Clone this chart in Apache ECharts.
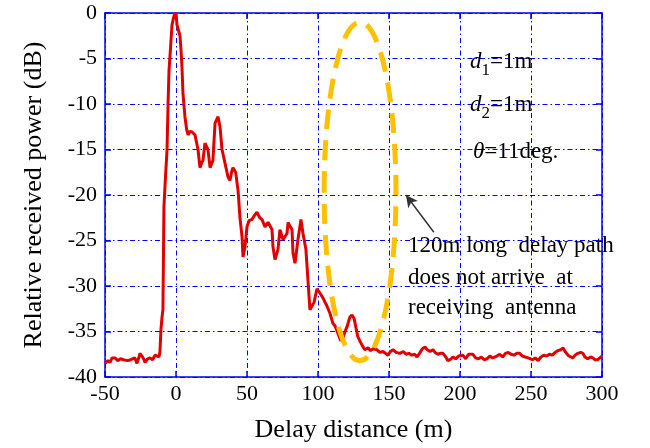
<!DOCTYPE html>
<html>
<head>
<meta charset="utf-8">
<script src="https://cdn.jsdelivr.net/npm/echarts@6/dist/echarts.min.js"></script>
<style>
  html, body { margin: 0; padding: 0; background: #fff; }
  #chart { width: 650px; height: 448px; }
</style>
</head>
<body>
<div id="chart"></div>
<script>
// ---- data ----
const delayM = [
  -50, -48, -46.5, -45, -43, -41, -39, -37, -35.9, -34, -32, -31, -29, -27.5, -26, -25.4, -24, -22.5, -21.8, -20,
  -18.3, -16.5, -14.8, -13.4, -12, -11.3, -10.6, -9.9, -9.2, -8.5, -7.4, -6.3, -5.6, -4.9, -3.5, -2.8, -1.4, 0, 0.7, 1.5,
  2.8, 3.5, 4.2, 4.9, 6.3, 7.5, 8.5, 9.9, 11.5, 13.4, 15.5, 16.9, 18, 19, 20.4, 22.5, 24, 26, 27.5, 29.6,
  31, 32.4, 34.5, 36.6, 38, 39.4, 40.1, 42, 43, 43.7, 45, 46.5, 47.2, 48.6, 50, 51.5, 53.5, 55, 57, 59,
  60.6, 62.7, 64.8, 66, 67.6, 68.3, 69.7, 71.8, 73.2, 75.4, 77, 78.2, 78.9, 80.5, 81.7, 82.4, 83.8, 85.9, 88, 89.4,
  91.5, 93, 94.3, 95.7, 97.2, 99.3, 100, 101.4, 103.5, 105, 106.3, 108.4, 110.5, 112, 114, 116, 116.9, 117.6, 119, 120.4,
  122.5, 124, 125.5, 127, 128.1, 130, 131, 133, 135.2, 137, 139, 141.5, 143.5, 145.7, 147.5, 149.3, 151, 152.8, 155, 157.7,
  160, 162, 164, 166, 168, 169.7, 171.5, 173.5, 175.4, 177, 179, 181, 182.4, 184.5, 186, 188, 190, 191.5, 193, 195,
  197, 199, 200, 202, 204, 206, 209, 211, 213, 215, 217, 219, 221, 223, 226, 228, 230, 232, 234, 236,
  238, 240, 242, 244, 246, 248, 251, 253, 255, 257, 259, 261, 263, 265, 267, 269, 271, 272.5, 274, 276,
  278, 279.5, 281, 283, 285, 286.5, 288, 290, 292, 293.5, 295, 297, 298.5, 300
];
const powerDb = [
  -38.5, -38.2, -38.4, -37.9, -37.9, -38.2, -38.0, -38.1, -38.0, -38.2, -38.1, -38.2, -37.9, -38.5, -37.8, -37.4, -37.7, -38.1, -38.4, -38.0,
  -37.9, -38.1, -37.6, -37.5, -37.8, -37.2, -34.8, -33.5, -32.6, -21.3, -18, -15, -10, -6.3, -3, -1.3, -0.3, 0, -1.3, -1.5,
  -2.5, -4, -5.9, -8.8, -11.4, -12.8, -13.4, -13.0, -13.1, -13.4, -15, -17, -16.5, -16.2, -14.3, -15, -17, -16.2, -12.1, -11.4,
  -12.5, -15, -16.5, -18, -18.4, -17.3, -17, -17.5, -17.6, -19.5, -22.4, -24.6, -26.8, -25.7, -23.5, -22.8, -22.7, -22.3, -21.9, -22.5,
  -22.7, -23.5, -23, -23.2, -23.8, -25.7, -27.1, -26, -23.8, -24.9, -24.5, -24.2, -23, -23.5, -23.8, -26.4, -27.5, -24.9, -22.7, -24.2,
  -26, -29.5, -32.6, -32.5, -31.8, -30.3, -30.1, -30.8, -31.3, -31.8, -32.2, -33, -34.1, -34.4, -35.2, -36, -36.2, -35.7, -35.0, -34.5,
  -33.4, -33.2, -33.6, -34.8, -35.6, -36.2, -36.5, -37.0, -36.8, -37.1, -36.9, -37.0, -37.3, -37.2, -37.4, -37.6, -37.2, -37.0, -37.3, -37.4,
  -37.2, -37.5, -37.4, -37.6, -37.5, -37.8, -37.4, -36.9, -36.7, -37.0, -37.2, -37.0, -37.3, -37.5, -37.4, -37.4, -37.8, -38.2, -38.1, -37.8,
  -38.0, -37.7, -37.8, -37.6, -38.0, -37.5, -37.5, -37.9, -38.0, -37.8, -38.1, -38.0, -37.7, -37.9, -37.7, -37.5, -37.8, -37.4, -37.3, -37.5,
  -37.6, -37.4, -37.4, -37.7, -37.8, -37.9, -38.1, -37.9, -38.2, -37.8, -37.6, -37.7, -37.5, -37.6, -37.3, -37.1, -37.0, -36.8, -37.2, -37.6,
  -37.8, -37.9, -37.6, -37.4, -37.3, -37.4, -37.8, -38.0, -37.8, -37.9, -38.1, -38.1, -37.9, -37.7
];

// ellipse around the missing 120 m path: [centre m, centre dB, half-width m, half-height dB]
const ellipseDelay = [129.6, -19.6, 25.3, 18.6];
// arrow: tail -> head, [m, dB]
const arrowTail = [181.6, -24.1];
const arrowHead = [161.9, -20.0];

const X_MIN = -50, X_MAX = 300, X_STEP = 50;
const Y_MIN = -40, Y_MAX = 0, Y_STEP = 5;

// ---- styles ----
const FONT = '"Liberation Serif", "Times New Roman", serif';
const BLUE = '#0000ff';
const RED = '#e00000';
const ORANGE = '#ffc000';
const GRID_DASH = [5, 3, 1.5, 3];

const chart = echarts.init(document.getElementById('chart'));

function axisBase(show) {
  return {
    axisLine: { show: true, onZero: false, lineStyle: { color: BLUE, width: 1.5 } },
    axisTick: { show: true, inside: true, length: 6, lineStyle: { color: BLUE, width: 1.5 } },
    axisLabel: { show: show, color: '#000', fontFamily: FONT, fontSize: 21 }
  };
}

const option = {
  animation: false,
  backgroundColor: '#fff',
  grid: { left: 105, right: 48, top: 13, bottom: 71 },
  xAxis: [
    Object.assign(axisBase(true), {
      type: 'value', min: X_MIN, max: X_MAX, interval: X_STEP,
      name: 'Delay distance (m)', nameLocation: 'middle', nameGap: 40,
      nameTextStyle: { color: '#000', fontFamily: FONT, fontSize: 26 },
      axisLabel: { color: '#000', fontFamily: FONT, fontSize: 22, margin: 6 },
      splitLine: { show: true, lineStyle: { color: BLUE, width: 1, type: GRID_DASH } }
    }),
    Object.assign(axisBase(false), {
      type: 'value', position: 'top', min: X_MIN, max: X_MAX, interval: X_STEP,
      splitLine: { show: false }
    })
  ],
  yAxis: [
    Object.assign(axisBase(true), {
      type: 'value', min: Y_MIN, max: Y_MAX, interval: Y_STEP,
      name: 'Relative received power (dB)', nameLocation: 'middle', nameGap: 58,
      nameTextStyle: { color: '#000', fontFamily: FONT, fontSize: 26 },
      axisLabel: { color: '#000', fontFamily: FONT, fontSize: 22, margin: 8 },
      splitLine: { show: true, lineStyle: { color: BLUE, width: 1, type: GRID_DASH } }
    }),
    Object.assign(axisBase(false), {
      type: 'value', position: 'right', min: Y_MIN, max: Y_MAX, interval: Y_STEP,
      splitLine: { show: false }
    })
  ],
  series: [
    {
      name: 'power',
      type: 'line',
      data: delayM.map((d, i) => [d, powerDb[i]]),
      showSymbol: false,
      lineStyle: { color: RED, width: 3 },
      z: 3,
      markLine: {
        silent: true,
        symbol: ['none', 'arrow'],
        symbolSize: [9, 12],
        label: { show: false },
        lineStyle: { color: '#333', width: 1.5, type: 'solid' },
        data: [[{ coord: arrowTail }, { coord: arrowHead }]]
      }
    }
  ]
};
chart.setOption(option);

// ellipse positioned through the chart's own scales
const c = chart.convertToPixel({ xAxisIndex: 0, yAxisIndex: 0 }, [ellipseDelay[0], ellipseDelay[1]]);
const e = chart.convertToPixel({ xAxisIndex: 0, yAxisIndex: 0 },
  [ellipseDelay[0] + ellipseDelay[2], ellipseDelay[1] + ellipseDelay[3]]);

const textStyle = { fill: '#000', font: '23px ' + FONT };
const rich = {
  i: { fontFamily: FONT, fontSize: 23, fontStyle: 'italic', fill: '#000' },
  s: { fontFamily: FONT, fontSize: 17, fill: '#000', padding: [18, 0, 0, 0] },
  n: { fontFamily: FONT, fontSize: 23, fill: '#000' }
};

chart.setOption({
  graphic: [
    {
      type: 'ellipse', z: 10,
      shape: { cx: c[0], cy: c[1], rx: Math.abs(e[0] - c[0]), ry: Math.abs(c[1] - e[1]) },
      style: { fill: 'none', stroke: ORANGE, lineWidth: 5, lineDash: [20, 11] }
    },
    { type: 'text', left: 470, top: 50, z: 11, style: { text: '{i|d}{s|1}{n|=1m}', rich: rich } },
    { type: 'text', left: 470, top: 93, z: 11, style: { text: '{i|d}{s|2}{n|=1m}', rich: rich } },
    { type: 'text', left: 473, top: 140, z: 11, style: { text: '{i|θ}{n|=11deg.}', rich: rich } },
    { type: 'text', left: 408, top: 234, z: 11, style: Object.assign({ text: '120m long  delay path' }, textStyle) },
    { type: 'text', left: 408, top: 266, z: 11, style: Object.assign({ text: 'does not arrive  at' }, textStyle) },
    { type: 'text', left: 408, top: 296, z: 11, style: Object.assign({ text: 'receiving  antenna' }, textStyle) }
  ]
});
</script>
</body>
</html>
